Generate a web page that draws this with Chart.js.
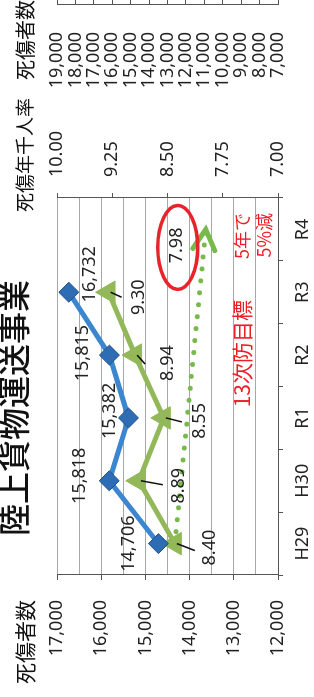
<!DOCTYPE html>
<html><head><meta charset="utf-8">
<script src="https://cdn.jsdelivr.net/npm/chart.js@4.4.1/dist/chart.umd.min.js"></script>
<style>
html,body{margin:0;padding:0;background:#fff;overflow:hidden;width:314px;height:697px;}
#wrap{position:absolute;left:0;top:0;width:697px;height:314px;transform-origin:0 0;transform:translateY(697px) rotate(-90deg);}
</style></head><body>
<div id="wrap"><canvas id="c" width="697" height="314"></canvas></div>
<script>
// ---- data ----
const categories = ['H29', 'H30', 'R1', 'R2', 'R3', 'R4'];
const casualties = [14706, 15818, 15382, 15815, 16732, null];      // 死傷者数
const rates = [8.40, 8.89, 8.55, 8.94, 9.30, null];                 // 死傷年千人率
const targetRates = [8.40, null, null, null, null, 7.98];           // 13次防目標
const casualtyAxisRange = [12000, 17000];
const rateAxisRange = [7.00, 10.00];
const otherAxisRange = [7000, 19000];

// ---- texts ----
const titleText = '陸上貨物運送事業';
const leftAxisTitle = '死傷者数';
const rateAxisTitle = '死傷年千人率';
const otherAxisTitle = '死傷者数';
const noteMain = '13次防目標';
const noteSub1 = '5年で';
const noteSub2 = '5%減';

// ---- label placement (style, not data) ----
const casualtyLabelOffsets = [[0,-30],[5,-29],[7,-19],[2,-27],[18,21]];
const rateLabelOffsets = [[-4,35],[-5,40],[-3,36],[-8,33],[-5,30]];
const rateLeaderEnds = [[-7,20],[-4,24],[-4,18],[-9,10],[-5,13]];

const NUM = "'Noto Sans', 'DejaVu Sans', sans-serif";
const JP = "'Noto Sans CJK JP', sans-serif";
const TXT = '#222';
const AXIS = '#555';
const GRID = '#a8a8a8';

const fmtInt = v => Math.round(v).toLocaleString('en-US');

const annot = {
  id: 'annot',
  afterDatasetsDraw(chart) {
    const ctx = chart.ctx;
    const ca = chart.chartArea;
    ctx.save();
    ctx.textAlign = 'center';
    ctx.textBaseline = 'middle';

    // blue labels
    const m0 = chart.getDatasetMeta(0);
    ctx.fillStyle = TXT;
    ctx.font = '18px ' + NUM;
    casualties.forEach((v, i) => {
      if (v == null) return;
      const p = m0.data[i];
      const o = casualtyLabelOffsets[i];
      ctx.fillText(fmtInt(v), p.x + o[0], p.y + o[1]);
    });

    // green labels with leader lines
    const m1 = chart.getDatasetMeta(1);
    ctx.strokeStyle = '#111';
    ctx.lineWidth = 1.5;
    rates.forEach((v, i) => {
      if (v == null) return;
      const p = m1.data[i];
      const l = rateLeaderEnds[i];
      ctx.beginPath();
      ctx.moveTo(p.x, p.y + 2);
      ctx.lineTo(p.x + l[0], p.y + l[1]);
      ctx.stroke();
      const o = rateLabelOffsets[i];
      ctx.fillText(v.toFixed(2), p.x + o[0], p.y + o[1]);
    });

    // target arrow head + label + red ellipse
    const m2 = chart.getDatasetMeta(2);
    const idx = targetRates.map((v, i) => v == null ? -1 : i).filter(i => i >= 0);
    const a = m2.data[idx[0]], b = m2.data[idx[idx.length - 1]];
    const ang = Math.atan2(b.y - a.y, b.x - a.x);
    ctx.strokeStyle = '#78b94c';
    ctx.lineWidth = 5;
    ctx.lineCap = 'round';
    ctx.lineJoin = 'miter';
    ctx.beginPath();
    const L = 23, spread = 0.5;
    ctx.moveTo(b.x - L * Math.cos(ang - spread), b.y - L * Math.sin(ang - spread));
    ctx.lineTo(b.x, b.y);
    ctx.lineTo(b.x - L * Math.cos(ang + spread), b.y - L * Math.sin(ang + spread));
    ctx.stroke();

    const tv = targetRates[idx[idx.length - 1]];
    const lx = b.x - 16, ly = b.y - 29;
    ctx.fillStyle = TXT;
    ctx.font = '18px ' + NUM;
    ctx.fillText(tv.toFixed(2), lx, ly);
    ctx.strokeStyle = '#e8242b';
    ctx.lineWidth = 3.5;
    ctx.beginPath();
    ctx.ellipse(lx - 2, ly + 1, 42, 20, 0, 0, Math.PI * 2);
    ctx.stroke();

    // red note
    ctx.fillStyle = '#ee1c25';
    ctx.textAlign = 'right';
    ctx.font = '21px ' + JP;
    ctx.fillText(noteMain, ca.right - 102, ca.top + 185);
    ctx.font = '18px ' + JP;
    ctx.fillText(noteSub1, ca.right - 15, ca.top + 185);
    ctx.fillText(noteSub2, ca.right - 15, ca.top + 207);

    // titles
    ctx.fillStyle = '#111';
    ctx.textAlign = 'center';
    ctx.font = '500 32px ' + JP;
    ctx.fillText(titleText, 289, 14);
    ctx.font = '21px ' + JP;
    ctx.fillText(leftAxisTitle, 55, 25);
    ctx.font = '19px ' + JP;
    ctx.fillText(rateAxisTitle, 542, 25);
    ctx.textAlign = 'left';
    ctx.font = '20px ' + JP;
    ctx.fillText(otherAxisTitle, 617, 25);
    ctx.restore();
  }
};

new Chart(document.getElementById('c'), {
  type: 'line',
  data: {
    labels: categories,
    datasets: [
      { label: '死傷者数', data: casualties, yAxisID: 'y', order: 1,
        borderColor: '#3b86cf', borderWidth: 5, tension: 0,
        pointStyle: 'rectRot', pointRadius: 10,
        pointBackgroundColor: '#2e6db4', pointBorderColor: '#1f4f8a', pointBorderWidth: 1 },
      { label: '死傷年千人率', data: rates, yAxisID: 'y1', order: 2,
        borderColor: '#93b85a', borderWidth: 5, tension: 0,
        pointStyle: 'triangle', pointRadius: 13,
        pointBackgroundColor: '#93b85a', pointBorderColor: '#93b85a', pointBorderWidth: 1 },
      { label: '13次防目標', data: targetRates, yAxisID: 'y1', order: 3, spanGaps: true,
        borderColor: '#78b94c', borderWidth: 5, borderDash: [0, 12], borderCapStyle: 'round',
        pointRadius: 0 }
    ]
  },
  options: {
    responsive: false,
    animation: false,
    devicePixelRatio: 1,
    layout: { padding: { top: 57, left: 0, right: 0, bottom: 0 } },
    plugins: { legend: { display: false }, tooltip: { enabled: false } },
    scales: {
      x: {
        offset: true,
        afterFit(s) { s.height = 36; },
        grid: { offset: true, drawOnChartArea: false, tickLength: 5, tickColor: AXIS },
        border: { color: AXIS, width: 1 },
        ticks: { padding: 9, color: TXT, font: { family: NUM, size: 18 }, maxRotation: 0 }
      },
      y: {
        position: 'left', min: casualtyAxisRange[0], max: casualtyAxisRange[1],
        afterFit(s) { s.width = 122; },
        ticks: { stepSize: 500, autoSkip: false, padding: 20, color: TXT,
          font: { family: NUM, size: 18 },
          callback: v => (v % 1000 === 0 ? fmtInt(v) : '') },
        grid: { color: GRID, lineWidth: 1, tickLength: 5,
          tickColor: c => (c.tick && c.tick.value % 1000 === 0 ? AXIS : 'rgba(0,0,0,0)') },
        border: { color: AXIS, width: 1 }
      },
      y1: {
        position: 'right', weight: 0, min: rateAxisRange[0], max: rateAxisRange[1],
        afterFit(s) { s.width = 193; },
        ticks: { stepSize: 0.75, autoSkip: false, padding: 16, color: TXT,
          font: { family: NUM, size: 18 }, callback: v => Number(v).toFixed(2) },
        grid: { drawOnChartArea: false, tickLength: 5, tickColor: AXIS },
        border: { color: AXIS, width: 1 }
      },
      y2: {
        position: 'right', weight: 1, min: otherAxisRange[0], max: otherAxisRange[1],
        afterFit(s) { s.width = 5; },
        ticks: { stepSize: 1000, autoSkip: false, mirror: true, padding: -27, color: TXT,
          font: { family: NUM, size: 18 }, callback: v => fmtInt(v) },
        grid: { drawOnChartArea: false, tickLength: 5, tickColor: AXIS },
        border: { color: AXIS, width: 1 }
      }
    }
  },
  plugins: [annot]
});
</script>
</body></html>
